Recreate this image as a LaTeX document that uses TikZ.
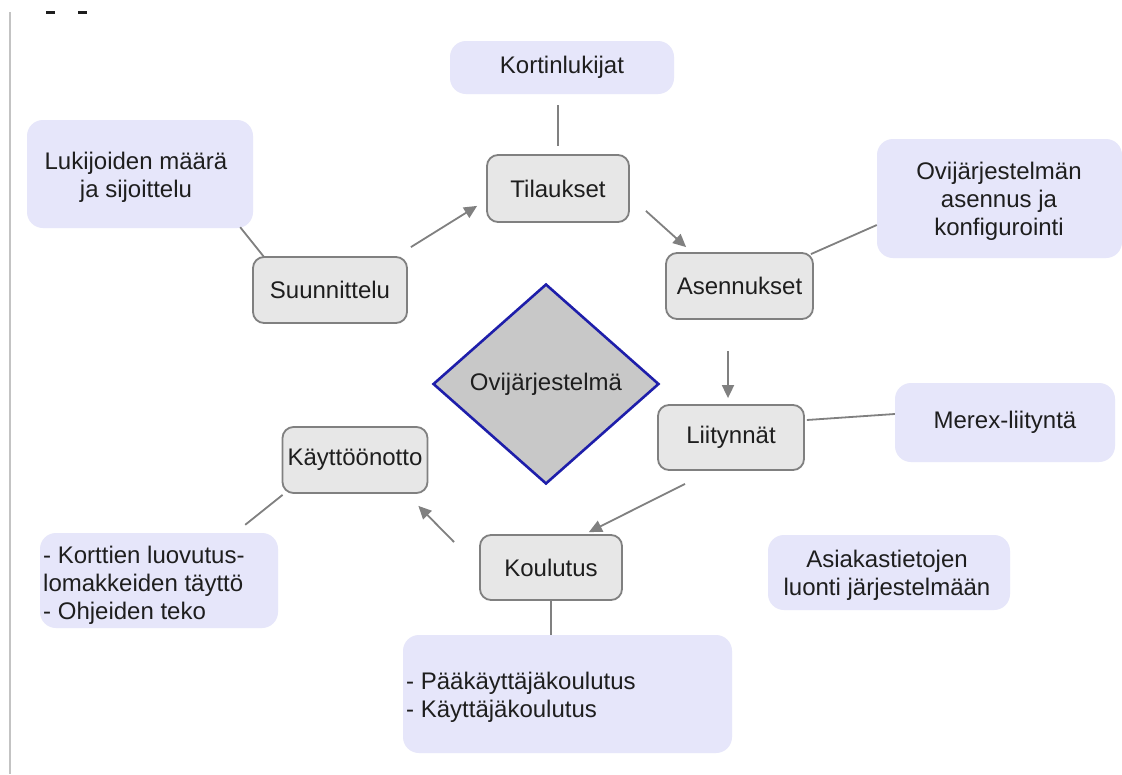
\documentclass[tikz,border=0pt]{standalone}
\usepackage{fontspec}
\setmainfont{Liberation Sans}
\usetikzlibrary{shapes.geometric,arrows.meta}
\definecolor{boxgray}{RGB}{231,231,231}
\definecolor{boxedge}{RGB}{128,128,128}
\definecolor{notefill}{RGB}{230,230,250}
\definecolor{linkgray}{RGB}{128,128,128}
\definecolor{diafill}{RGB}{200,200,200}
\definecolor{diaedge}{RGB}{30,30,170}
\definecolor{inkc}{RGB}{30,30,30}
\definecolor{rulegray}{RGB}{195,195,195}

\begin{document}
\begin{tikzpicture}[x=1pt,y=-1pt,
  every node/.style={font=\fontsize{24}{28}\selectfont, text=inkc},
  stage/.style={draw=boxedge, line width=1.8pt, fill=boxgray, rounded corners=11pt, inner sep=0pt},
  note/.style={fill=notefill, rounded corners=16pt, inner sep=0pt},
  txt/.style={inner sep=0pt},
  link/.style={draw=linkgray, line width=1.8pt},
  flow/.style={link, -{Triangle[length=13pt,width=12pt]}},
]
% page and left rule
\fill[white] (0,0) rectangle (1122,774);
\useasboundingbox (0,0) rectangle (1122,774);
\draw[rulegray, line width=2pt] (10,12) -- (10,774);
\fill[inkc] (46,11) rectangle (55,14);
\fill[inkc] (78,11) rectangle (87,14);

% notes and stages
\node[note, minimum width=224pt, minimum height=53pt] (kort) at (562,67.5) {Kortinlukijat};
\node[stage, minimum width=142pt, minimum height=67pt] (til) at (558,188.5) {Tilaukset};
\node[note, minimum width=226pt, minimum height=108pt] (luk) at (140,174) {};
\node[txt, align=center] (lukt) at (136,177) {Lukijoiden määrä\\ja sijoittelu};
\node[stage, minimum width=154pt, minimum height=66pt] (suun) at (330,290) {Suunnittelu};
\node[stage, minimum width=147pt, minimum height=66pt] (ase) at (739.5,286) {Asennukset};
\node[note, minimum width=245pt, minimum height=119pt] (ovi) at (999.5,198.5) {};
\node[txt, align=center] (ovit) at (999,201) {Ovijärjestelmän\\asennus ja\\konfigurointi};
\node[diamond, draw=diaedge, fill=diafill, line width=2.6pt, aspect=1.13,
      minimum width=226pt, minimum height=200pt, inner sep=0pt] (core) at (546,384) {Ovijärjestelmä};
\node[stage, minimum width=146pt, minimum height=65pt] (lii) at (731,437.5) {Liitynnät};
\node[note, minimum width=220pt, minimum height=79pt] (mer) at (1005,422.5) {Merex-liityntä};
\node[stage, minimum width=145pt, minimum height=66pt] (kay) at (355,460) {Käyttöönotto};
\node[stage, minimum width=142pt, minimum height=65pt] (kou) at (551,567.5) {Koulutus};
\node[note, minimum width=238pt, minimum height=95pt] (kor) at (159,580.5) {};
\node[txt, align=left, anchor=west] (kortt) at (43,585) {- Korttien luovutus-\\lomakkeiden täyttö\\- Ohjeiden teko};
\node[note, minimum width=329pt, minimum height=118pt] (paa) at (567.5,694) {};
\node[txt, align=left, anchor=west] (paat) at (406,697) {- Pääkäyttäjäkoulutus\\- Käyttäjäkoulutus};
\node[note, minimum width=242pt, minimum height=75pt] (asi) at (889,572.5) {};
\node[txt, align=center] (asit) at (887,575.5) {Asiakastietojen\\luonti järjestelmään};

% process arrows
\draw[flow] ([shift={(3,-9)}]suun.north east) -- ([shift={(-9,-17)}]til.south west);
\draw[flow] ([shift={(16,-12)}]til.south east) -- ([shift={(21,-5)}]ase.north west);
\draw[flow] ([shift={(-11.5,31)}]ase.south) -- ([shift={(-3,-6)}]lii.north);
\draw[flow] ([shift={(-46,13)}]lii.south) -- ([shift={(-34,-2)}]kou.north east);
\draw[flow] ([shift={(-25,8)}]kou.north west) -- ([shift={(-10,12)}]kay.south east);

% note connectors
\draw[link] ([yshift=-11pt]kort.south -| til.north) -- ([yshift=8pt]til.north);
\draw[link] ([shift={(-13,-1)}]luk.south east) -- ([shift={(12,1)}]suun.north west);
\draw[link] ([shift={(-3,2)}]ase.north east) -- ([shift={(0,26.5)}]ovi.west);
\draw[link] ([shift={(2,-17.5)}]lii.east) -- ([shift={(0,-8.5)}]mer.west);
\draw[link] ([shift={(1,1)}]kay.south west) -- ([shift={(-33,-8)}]kor.north east);
\draw[link] (kou.south) -- (kou.south |- paa.north);
\end{tikzpicture}
\end{document}
